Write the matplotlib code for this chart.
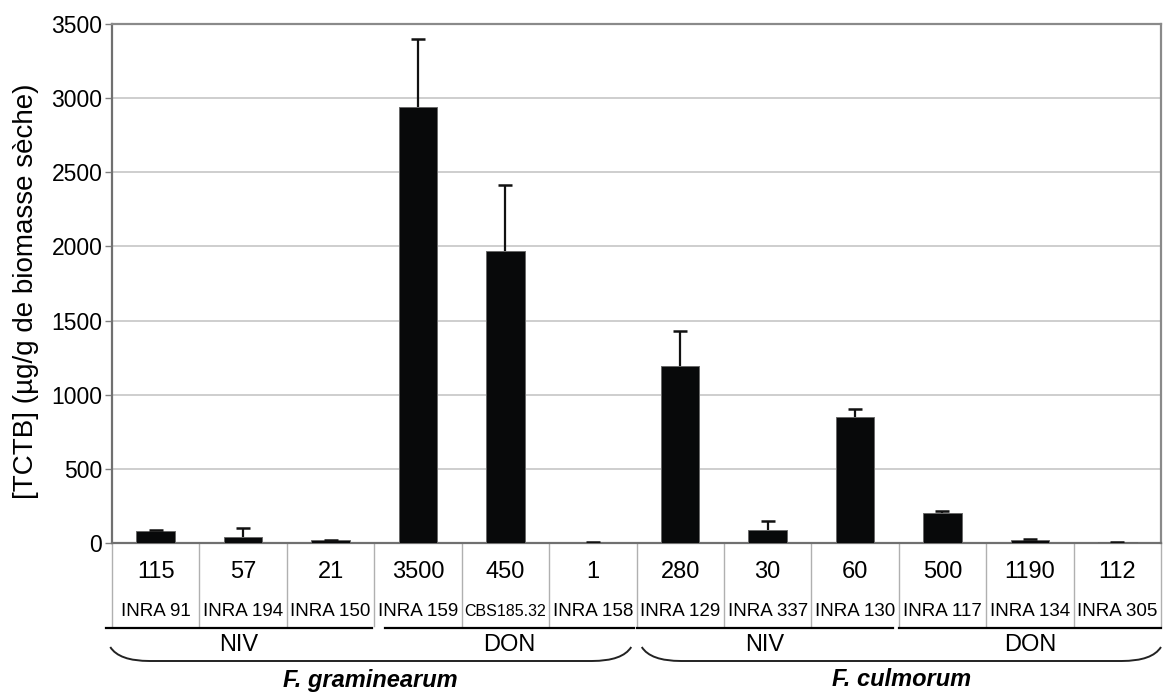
import matplotlib
matplotlib.use('Agg')
import matplotlib.pyplot as plt
from matplotlib.path import Path
from matplotlib.patches import PathPatch
import matplotlib.transforms as mtransforms
import numpy as np

plt.rcParams['font.family'] = ['Liberation Sans', 'DejaVu Sans']

# TCTB production per strain (µg/g dry biomass) and upper error
strains = ['INRA 91', 'INRA 194', 'INRA 150', 'INRA 159', 'CBS185.32', 'INRA 158',
           'INRA 129', 'INRA 337', 'INRA 130', 'INRA 117', 'INRA 134', 'INRA 305']
in_planta = ['115', '57', '21', '3500', '450', '1',
             '280', '30', '60', '500', '1190', '112']
tctb = [80, 40, 18, 2940, 1970, 3, 1195, 86, 850, 205, 20, 4]
tctb_err = [10, 60, 5, 460, 445, 1, 235, 62, 55, 14, 7, 1]

chemotypes = ['NIV', 'DON', 'NIV', 'DON']
chemo_spans = [(-0.57, 2.47), (2.62, 5.47), (5.5, 8.43), (8.5, 11.5)]
species = ['F. graminearum', 'F. culmorum']
species_spans = [(-0.52, 5.44), (5.56, 11.5)]

W, H = 1164, 693
fig = plt.figure(figsize=(W / 100, H / 100), dpi=100)
ax = fig.add_axes([112 / W, 1 - 543 / H, (1161 - 112) / W, (543 - 24) / H])

x = np.arange(len(strains))
vals = np.array(tctb)
errs = np.array(tctb_err)
ax.bar(x, vals, width=0.44, color='#08090a', edgecolor='#6a6a6a', linewidth=0.7, zorder=3)
# upper error only: stem + cap
ax.vlines(x, vals, vals + errs, color='#111111', lw=1.6, zorder=4)
ax.hlines(vals + errs, x - 0.08, x + 0.08, color='#111111', lw=1.8, zorder=4)

ax.set_xlim(-0.5, len(strains) - 0.5)
ax.set_ylim(0, 3500)
ax.set_yticks(np.arange(0, 3501, 500))
ax.tick_params(axis='y', labelsize=16.5, length=5, width=1, color='#808080', pad=2)
ax.set_xticks([])
ax.yaxis.grid(True, color='#c6c6c6', linewidth=1.2, zorder=0)
ax.set_axisbelow(True)
for side in ['left', 'bottom']:
    ax.spines[side].set_color('#707070')
    ax.spines[side].set_linewidth(1.6)
for side in ['top', 'right']:
    ax.spines[side].set_color('#8a8a8a')
    ax.spines[side].set_linewidth(1.6)
ax.set_ylabel('[TCTB] (µg/g de biomasse sèche)', fontsize=20)
ax.yaxis.set_label_coords(-0.07, 0.485)

# table under the axis: x in data units, y in figure fraction
tr = mtransforms.blended_transform_factory(ax.transData, fig.transFigure)
def fy(px):
    return 1 - px / H

for b in np.arange(-0.5, len(strains), 1.0):
    ax.plot([b, b], [fy(543), fy(626)], transform=tr, color='#b0b0b0', lw=1, clip_on=False)

for i in x:
    ax.text(i, fy(572), in_planta[i], transform=tr, ha='center', va='center', fontsize=17)
    fs = 11.5 if strains[i].startswith('CBS') else 13.5
    ax.text(i, fy(612), strains[i], transform=tr, ha='center', va='center', fontsize=fs)

for name, (a, b) in zip(chemotypes, chemo_spans):
    ax.plot([a, b], [fy(628), fy(628)], transform=tr, color='black', lw=1.6, clip_on=False)
    ax.text((a + b) / 2, fy(645), name, transform=tr, ha='center', va='center', fontsize=17)

# rounded brackets grouping each species
for name, (a, b) in zip(species, species_spans):
    r = 0.45
    top, bot = fy(647), fy(661)
    verts = [(a, top), (a + 0.1, bot), (a + r, bot),
             (b - r, bot),
             (b - 0.1, bot), (b, top)]
    codes = [Path.MOVETO, Path.CURVE3, Path.CURVE3, Path.LINETO, Path.CURVE3, Path.CURVE3]
    ax.add_patch(PathPatch(Path(verts, codes), transform=tr, fill=False, color='#222222',
                           lw=1.4, clip_on=False))
    ax.text((a + b) / 2, fy(680), name, transform=tr, ha='center', va='center',
            fontsize=17, fontweight='bold', fontstyle='italic')

fig.savefig('out.png', dpi=100)
